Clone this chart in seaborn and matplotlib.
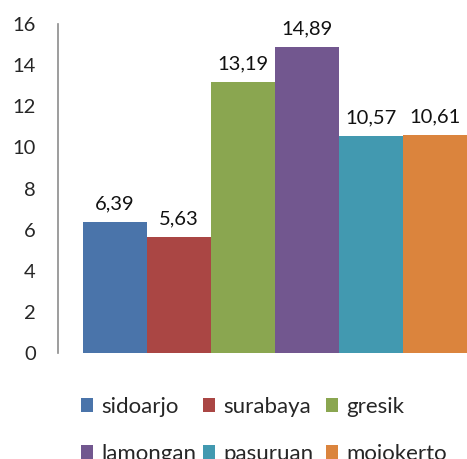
import matplotlib
matplotlib.use("Agg")
import matplotlib.pyplot as plt
from matplotlib.patches import Patch
import seaborn as sns

regions = ["sidoarjo", "surabaya", "gresik", "lamongan", "pasuruan", "mojokerto"]
values = [6.39, 5.63, 13.19, 14.89, 10.57, 10.61]
colors = ["#4A74AA", "#AA4644", "#8AA650", "#72578F", "#4299B0", "#DB843D"]
yticks = [0, 2, 4, 6, 8, 10, 12, 14, 16]

sns.set_style("white")
plt.rcParams["font.family"] = ["Lato", "DejaVu Sans"]

fig = plt.figure(figsize=(4.67, 4.59), dpi=100)
ax = fig.add_axes([58 / 467, 106 / 459, 1 - 58 / 467, 329 / 459])

sns.barplot(x=regions, y=values, hue=regions, palette=colors, width=1.0,
            saturation=1, linewidth=0, legend=False, ax=ax)

ax.set_xlim(-0.5 - 0.39, 5.5)
ax.set_ylim(0, 16)
ax.set_yticks(yticks)
ax.set_yticklabels([str(t) for t in yticks], fontsize=14.5)
ax.tick_params(axis="y", length=0, pad=16)
ax.set_xticks([])
ax.set_xlabel("")
ax.set_ylabel("")

for side in ["top", "right", "bottom"]:
    ax.spines[side].set_visible(False)
ax.spines["left"].set_color("#8C8C8C")
ax.spines["left"].set_linewidth(1.2)

for container in ax.containers:
    vals = container.datavalues
    ax.bar_label(container,
                 labels=[f"{v:.2f}".replace(".", ",") for v in vals],
                 padding=7, fontsize=14.5, color="#111111", clip_on=False)

# legend laid out as three columns of two entries (row by row reading order)
col_x = [81, 203, 326]
for col, x in enumerate(col_x):
    idx = [col, col + 3]
    handles = [Patch(facecolor=colors[i], edgecolor="none") for i in idx]
    leg = fig.legend(handles, [regions[i] for i in idx], loc="upper left",
                     bbox_to_anchor=(x / 467, 1 - 397 / 459),
                     frameon=False, fontsize=16, handlelength=0.55,
                     handleheight=0.55, handletextpad=0.35,
                     labelspacing=1.2, borderpad=0, borderaxespad=0)

fig.savefig("out.png", dpi=100)
